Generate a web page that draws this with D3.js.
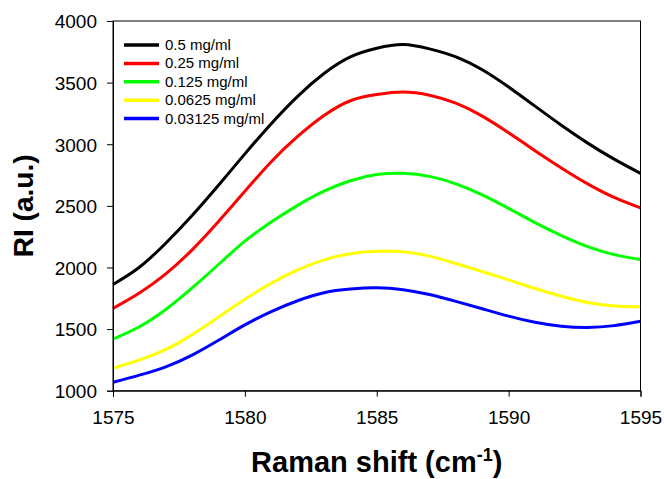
<!DOCTYPE html>
<html>
<head>
<meta charset="utf-8">
<script src="https://cdn.jsdelivr.net/npm/d3@7/dist/d3.min.js"></script>
<style>
  html, body { margin: 0; padding: 0; background: #fff; }
  svg { display: block; font-family: "Liberation Sans", Arial, sans-serif; }
</style>
</head>
<body>
<svg id="chart" width="664" height="479"></svg>
<script>
// ---- data ----
const ramanShift = [1575, 1576, 1577, 1578, 1579, 1580, 1581, 1582, 1583, 1584, 1585,
                    1586, 1587, 1588, 1589, 1590, 1591, 1592, 1593, 1594, 1595];
const conc0500 = [1862, 2002, 2197, 2422, 2667, 2922, 3167, 3389, 3574, 3709, 3779,
                  3809, 3774, 3709, 3604, 3464, 3309, 3154, 3009, 2879, 2764];
const conc0250 = [1668, 1793, 1948, 2143, 2373, 2618, 2858, 3063, 3233, 3353, 3403,
                  3423, 3398, 3333, 3228, 3093, 2948, 2808, 2678, 2568, 2483];
const conc0125 = [1419, 1519, 1659, 1834, 2024, 2214, 2369, 2504, 2619, 2704, 2754,
                  2764, 2739, 2679, 2589, 2479, 2364, 2259, 2169, 2104, 2064];
const conc00625 = [1182, 1250, 1335, 1455, 1597, 1742, 1872, 1980, 2062, 2112, 2132,
                   2127, 2092, 2032, 1967, 1899, 1829, 1766, 1716, 1688, 1680];
const conc003125 = [1068, 1126, 1194, 1289, 1409, 1534, 1642, 1730, 1795, 1825, 1835,
                    1820, 1780, 1725, 1665, 1605, 1555, 1523, 1513, 1528, 1563];
const seriesLabels = ["0.5 mg/ml", "0.25 mg/ml", "0.125 mg/ml", "0.0625 mg/ml", "0.03125 mg/ml"];
const seriesColors = ["#000000", "#ff0000", "#00ff00", "#ffff00", "#0000ff"];
const xTicks = [1575, 1580, 1585, 1590, 1595];
const yTicks = [1000, 1500, 2000, 2500, 3000, 3500, 4000];

const seriesValues = [conc0500, conc0250, conc0125, conc00625, conc003125];

// ---- layout ----
const svg = d3.select("#chart");
const mLeft = 113, mRight = 640.5, mTop = 21, mBottom = 390.7;

const x = d3.scaleLinear().domain([1575, 1595]).range([mLeft, mRight]);
const y = d3.scaleLinear().domain([1000, 4000]).range([mBottom, mTop]);

// curves
const line = d3.line()
  .x((d, i) => x(ramanShift[i]))
  .y(d => y(d))
  .curve(d3.curveNatural);

svg.append("g").selectAll("path")
  .data(seriesValues)
  .join("path")
  .attr("d", d => line(d))
  .attr("fill", "none")
  .attr("stroke", (d, i) => seriesColors[i])
  .attr("stroke-width", 3)
  .attr("stroke-linejoin", "round");

// frame
svg.append("rect")
  .attr("x", mLeft).attr("y", mTop)
  .attr("width", mRight - mLeft).attr("height", mBottom - mTop)
  .attr("fill", "none").attr("stroke", "#000").attr("stroke-width", 1);

// axes
const xAxis = d3.axisBottom(x).tickValues(xTicks).tickSize(6).tickPadding(14).tickFormat(d3.format("d"));
const yAxis = d3.axisLeft(y).tickValues(yTicks).tickSize(6).tickPadding(10).tickFormat(d3.format("d"));

const gx = svg.append("g").attr("transform", `translate(0,${mBottom})`).call(xAxis);
const gy = svg.append("g").attr("transform", `translate(${mLeft},0)`).call(yAxis);
[gx, gy].forEach(g => {
  g.select(".domain").attr("stroke", "#000");
  g.selectAll(".tick line").attr("stroke", "#000");
  g.selectAll(".tick text")
    .attr("fill", "#000")
    .style("font-size", "19px")
    .style("font-family", "'Liberation Sans', Arial, sans-serif");
});
gx.selectAll(".tick text").attr("dy", "0.71em");
gy.selectAll(".tick text").attr("dy", "0.36em");

// axis titles
const xt = svg.append("text")
  .attr("x", (mLeft + mRight) / 2)
  .attr("y", 472)
  .attr("text-anchor", "middle")
  .style("font-size", "29px")
  .style("font-weight", "bold");
xt.append("tspan").text("Raman shift (cm");
xt.append("tspan").attr("dy", -11).style("font-size", "18px").text("-1");
xt.append("tspan").attr("dy", 11).text(")");

svg.append("text")
  .attr("transform", `translate(33,${(mTop + mBottom) / 2}) rotate(-90)`)
  .attr("text-anchor", "middle")
  .style("font-size", "28px")
  .style("font-weight", "bold")
  .text("RI (a.u.)");

// legend
const legend = svg.append("g");
const rows = legend.selectAll("g")
  .data(seriesLabels)
  .join("g")
  .attr("transform", (d, i) => `translate(124,${45 + i * 18.4})`);
rows.append("line")
  .attr("x1", 0).attr("x2", 35)
  .attr("stroke", (d, i) => seriesColors[i])
  .attr("stroke-width", 3.5);
rows.append("text")
  .attr("x", 41)
  .attr("y", 5)
  .style("font-size", "15px")
  .text(d => d);
</script>
</body>
</html>
